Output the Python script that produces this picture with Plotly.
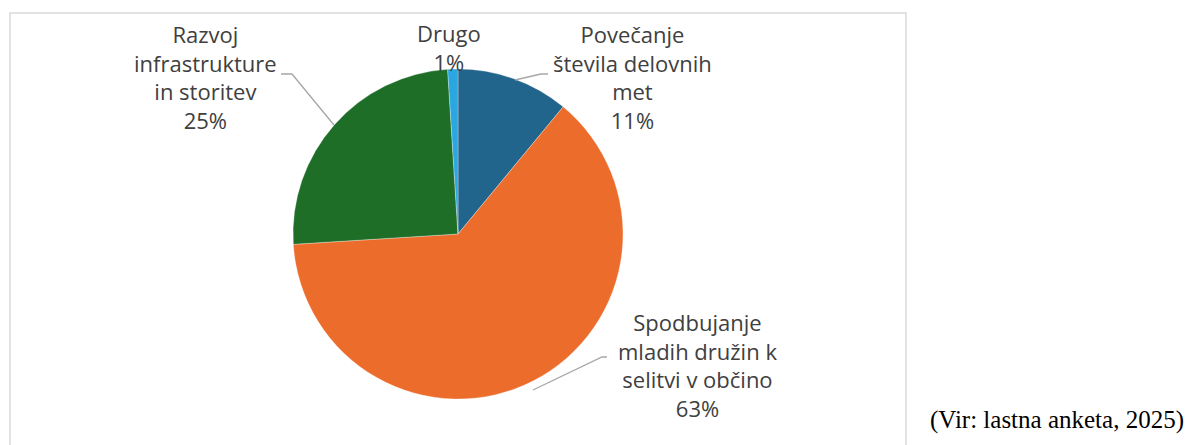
import plotly.graph_objects as go

W, H = 1197, 445
OFF = 8  # page body margin in the browser

# Data
categories = ["Povečanje števila delovnih met",
              "Spodbujanje mladih družin k selitvi v občino",
              "Razvoj infrastrukture in storitev",
              "Drugo"]
values = [11, 63, 25, 1]
label_lines = [["Povečanje", "števila delovnih", "met"],
               ["Spodbujanje", "mladih družin k", "selitvi v občino"],
               ["Razvoj", "infrastrukture", "in storitev"],
               ["Drugo"]]
colors = ["#21648c", "#ec6c2c", "#1e6e28", "#2aa7e0"]
source_text = "(Vir: lastna anketa, 2025)"


def px(x, y):
    return (x - OFF) / W, 1 - (y - OFF) / H


# pie geometry (pixels)
cx, cy, r = 458, 234, 165
x0, y0 = px(cx - r, cy + r)
x1, y1 = px(cx + r, cy - r)

fig = go.Figure()
fig.add_trace(go.Pie(
    labels=categories, values=values, sort=False, direction="clockwise",
    rotation=0, textinfo="none", hoverinfo="label+percent",
    marker=dict(colors=colors, line=dict(color="rgba(255,255,255,0.6)", width=0.5)),
    domain=dict(x=[x0, x1], y=[y0, y1]), showlegend=False,
))

# label blocks: center positions in pixels
label_pos = [(632, 76.5), (697, 365), (205, 76.5), (449, 47.5)]
total = sum(values)
for lines, v, (lx, ly) in zip(label_lines, values, label_pos):
    text = "<br>".join(lines + [f"{round(100 * v / total)}%"])
    ax, ay = px(lx, ly)
    fig.add_annotation(x=ax, y=ay, xref="paper", yref="paper", text=text,
                       showarrow=False, xanchor="center", yanchor="middle",
                       align="center",
                       font=dict(family="Open Sans", size=22, color="#404040"))

# leader lines (pixel paths)
leaders = [
    [(548, 74), (541, 74), (515, 80)],
    [(607, 357), (602, 357), (533, 390)],
    [(281, 74), (292, 74), (334, 125)],
]
for pts in leaders:
    path = ""
    for i, (x, y) in enumerate(pts):
        pxx, pyy = px(x, y)
        path += ("M" if i == 0 else "L") + f"{pxx},{pyy} "
    fig.add_shape(type="path", path=path, xref="paper", yref="paper",
                  line=dict(color="#a6a6a6", width=1.3))

# chart border
bx0, by0 = px(10, 13)
bx1, _ = px(906, 0)
fig.add_shape(type="rect", xref="paper", yref="paper", x0=bx0, x1=bx1,
              y0=-0.1, y1=by0, line=dict(color="#d9d9d9", width=1.5),
              fillcolor="rgba(0,0,0,0)", layer="below")

sx, sy = px(1057, 420)
fig.add_annotation(x=sx, y=sy, xref="paper", yref="paper", text=source_text,
                   showarrow=False, xanchor="center", yanchor="middle",
                   font=dict(family="Liberation Serif", size=25, color="#000000"))

fig.update_layout(width=W, height=H, margin=dict(l=0, r=0, t=0, b=0),
                  paper_bgcolor="white", plot_bgcolor="white")

fig.write_html("out.html")
